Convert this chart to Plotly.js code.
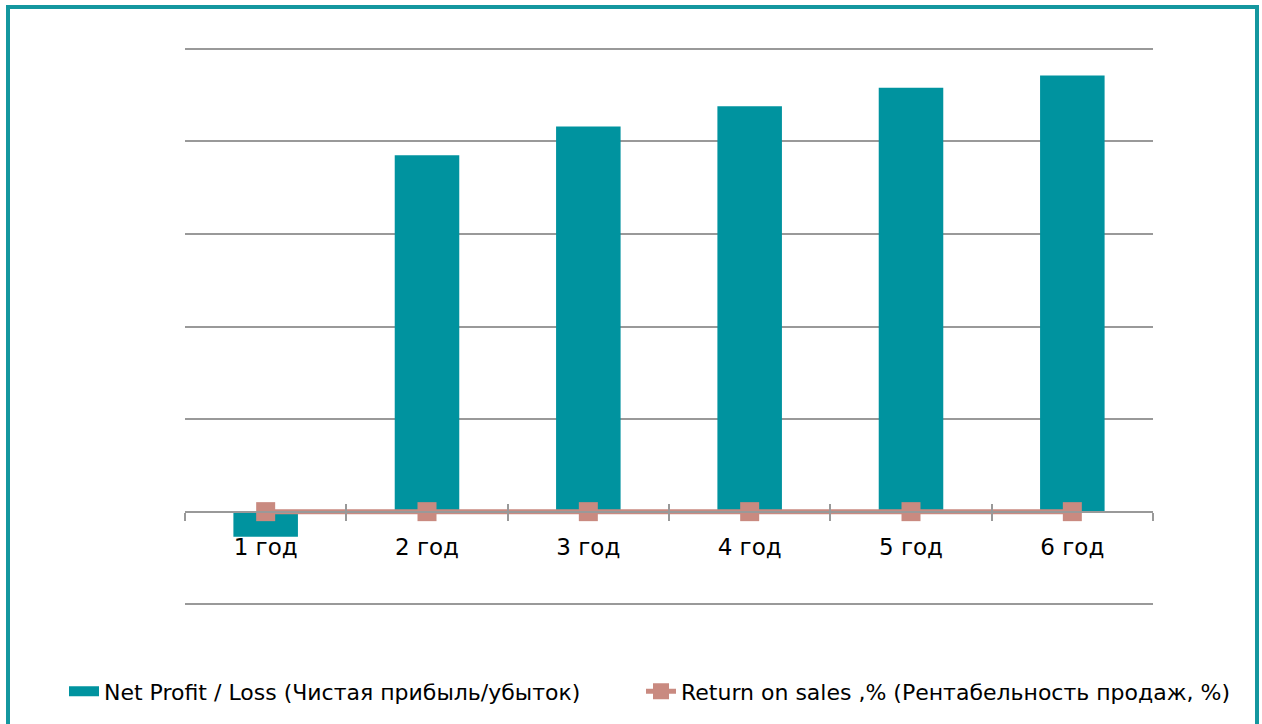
<!DOCTYPE html>
<html>
<head>
<meta charset="utf-8">
<script src="https://cdn.plot.ly/plotly-3.0.1.min.js"></script>
<style>
html,body{margin:0;padding:0;background:#fff;overflow:hidden;}
#chart{position:absolute;left:0;top:0;width:1262px;height:724px;}
#frame{position:absolute;left:6px;top:5px;width:1245px;height:760px;border:4px solid #14979F;pointer-events:none;}
</style>
</head>
<body>
<div id="chart"></div>
<div id="frame"></div>
<script>
const categories = ['1 год', '2 год', '3 год', '4 год', '5 год', '6 год'];
const netProfit = [-270, 3850, 4160, 4380, 4580, 4710];
const returnOnSales = [0, 0, 0, 0, 0, 0];
const barName = 'Net Profit / Loss (Чистая прибыль/убыток)';
const lineName = 'Return on sales ,% (Рентабельность продаж, %)';
const barColor = '#00939F';
const lineColor = '#C98A80';
const yRange = [-1030, 5030];

const traces = [
  {type: 'scatter', x: categories, y: returnOnSales, xaxis: 'x2', mode: 'none', showlegend: false, hoverinfo: 'skip'},
  {type: 'bar', x: categories, y: netProfit, name: barName, showlegend: false, marker: {color: barColor}},
  {type: 'scatter', mode: 'lines', x: categories, y: categories.map(() => null), name: barName,
   line: {color: barColor, width: 15}, showlegend: true, legend: 'legend'},
  {type: 'scatter', mode: 'lines+markers', x: categories, y: returnOnSales, name: lineName,
   line: {color: lineColor, width: 5},
   marker: {symbol: 'square', size: 19, color: lineColor}, showlegend: true, legend: 'legend2'}
];

const zeroPos = (0 - yRange[0]) / (yRange[1] - yRange[0]);
const legendCommon = {orientation: 'h', xref: 'container', yref: 'container', xanchor: 'left', y: 0.045, yanchor: 'middle',
                      font: {size: 22, color: '#000'}, itemwidth: 30, bgcolor: 'rgba(0,0,0,0)'};

const layout = {
  width: 1262, height: 724,
  margin: {l: 185, r: 109, t: 46, b: 117},
  paper_bgcolor: '#fff', plot_bgcolor: '#fff',
  bargap: 0.6,
  font: {family: 'DejaVu Sans, Verdana, sans-serif', color: '#000'},
  showlegend: true,
  legend: Object.assign({}, legendCommon, {x: 64 / 1262}),
  legend2: Object.assign({}, legendCommon, {x: 641 / 1262}),
  xaxis: {
    type: 'category', anchor: 'free', position: zeroPos,
    showline: true, linecolor: '#999', linewidth: 2,
    ticks: 'outside', ticklen: 8, tickcolor: '#999', tickwidth: 2,
    tickson: 'boundaries', showgrid: false,
    tickfont: {size: 23, color: '#000'}, ticklabelstandoff: 15
  },
  xaxis2: {
    type: 'category', overlaying: 'x', anchor: 'free', position: zeroPos, matches: 'x',
    showline: false, ticks: 'inside', ticklen: 8, tickcolor: '#999', tickwidth: 2,
    tickson: 'boundaries', showgrid: false, showticklabels: false
  },
  yaxis: {
    range: yRange, dtick: 1000, tick0: 0,
    showticklabels: false, ticks: '', showline: false,
    showgrid: true, gridcolor: '#999', gridwidth: 2,
    zeroline: false
  }
};

Plotly.newPlot('chart', traces, layout, {displayModeBar: false, staticPlot: true});
</script>
</body>
</html>
